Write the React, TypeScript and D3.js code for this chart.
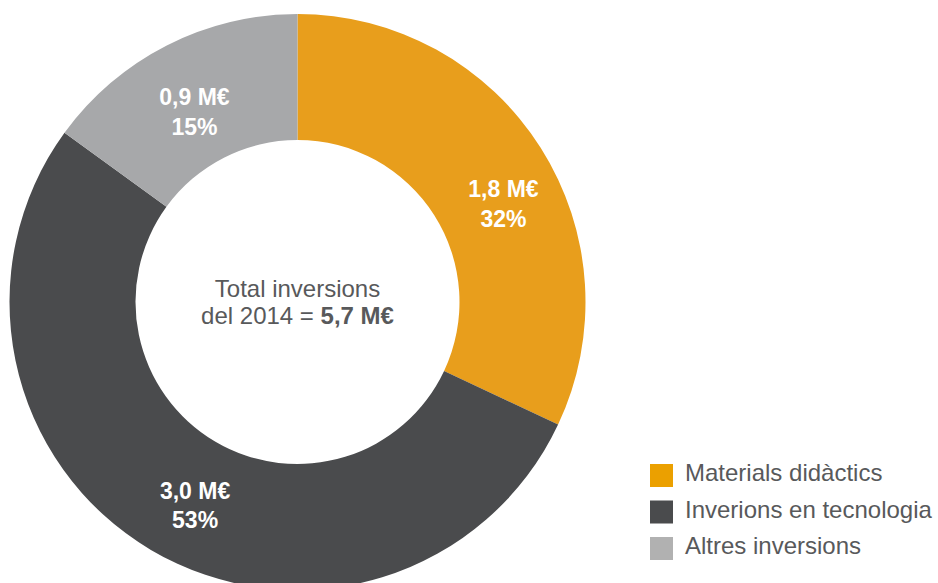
import React, { useEffect, useRef } from 'react';
import * as d3 from 'd3';

// Slice data
const categories = ['Materials didàctics', 'Inverions en tecnologia', 'Altres inversions'];
const amounts = ['1,8 M€', '3,0 M€', '0,9 M€'];
const percents = [32, 53, 15];
const totalLabel = '5,7 M€';
const sliceColors = ['#e89e1c', '#4a4b4d', '#a7a8aa'];
const legendColors = ['#eba000', '#4a4b4d', '#b1b1b1'];

const W = 938;
const H = 583;
const FONT = '"Liberation Sans", Arial, sans-serif';

const App = () => {
  const ref = useRef<SVGSVGElement | null>(null);

  useEffect(() => {
    const svg = d3.select(ref.current);
    svg.selectAll('*').remove();

    const cx = 297.5;
    const cy = 302;
    const outerR = 288;
    const innerR = 162;

    const g = svg.append('g').attr('transform', `translate(${cx},${cy})`);

    const pie = d3.pie<number>().sort(null).value(d => d);
    const arcs = pie(percents);
    const arc = d3.arc<d3.PieArcDatum<number>>().innerRadius(innerR).outerRadius(outerR);

    g.selectAll('path.slice')
      .data(arcs)
      .enter()
      .append('path')
      .attr('class', 'slice')
      .attr('d', arc)
      .attr('fill', (_, i) => sliceColors[i]);

    // label placement: nudge angle (deg) and radius per slice
    const labelNudge = [
      { da: 7, r: 228 },
      { da: -3.9, r: 228 },
      { da: -1.5, r: 216 },
    ];

    arcs.forEach((a, i) => {
      const mid = (a.startAngle + a.endAngle) / 2 + (labelNudge[i].da * Math.PI) / 180;
      const r = labelNudge[i].r;
      const x = r * Math.sin(mid);
      const y = -r * Math.cos(mid);
      const t = g.append('text')
        .attr('text-anchor', 'middle')
        .attr('fill', '#ffffff')
        .style('font-family', FONT)
        .style('font-weight', 'bold')
        .style('font-size', '23px');
      t.append('tspan').attr('x', x).attr('y', y - 7).text(amounts[i]);
      t.append('tspan').attr('x', x).attr('y', y + 22.5).text(`${percents[i]}%`);
    });

    // center text
    const ct = g.append('text')
      .attr('text-anchor', 'middle')
      .attr('fill', '#58595b')
      .style('font-family', FONT)
      .style('font-size', '24px');
    ct.append('tspan').attr('x', 0).attr('y', -5).text('Total inversions');
    const l2 = ct.append('tspan').attr('x', 0).attr('y', 22);
    l2.append('tspan').text('del 2014 = ');
    l2.append('tspan').style('font-weight', 'bold').text(totalLabel);

    // legend
    const legend = svg.append('g').attr('transform', 'translate(650,464)');
    const rows = legend.selectAll('g.row')
      .data(categories)
      .enter()
      .append('g')
      .attr('class', 'row')
      .attr('transform', (_, i) => `translate(0,${i * 36.5})`);

    rows.append('rect')
      .attr('width', 23)
      .attr('height', 23)
      .attr('fill', (_, i) => legendColors[i]);

    rows.append('text')
      .attr('x', 35)
      .attr('y', 17)
      .attr('fill', '#58595b')
      .style('font-family', FONT)
      .style('font-size', '24px')
      .text(d => d);
  }, []);

  return (
    <svg
      ref={ref}
      width={W}
      height={H}
      style={{ position: 'absolute', left: 0, top: 0, background: '#ffffff' }}
    />
  );
};

export default App;
